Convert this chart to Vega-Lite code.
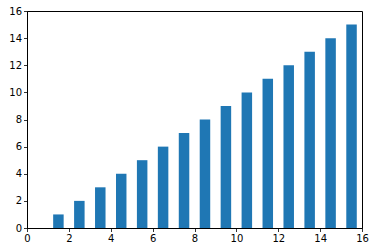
{
  "$schema": "https://vega.github.io/schema/vega-lite/v6.json",
  "width": 335,
  "height": 217,
  "autosize": {"type": "none"},
  "padding": {"left": 27, "top": 11, "right": 13, "bottom": 24},
  "background": "white",
  "config": {
    "view": {"stroke": "#000000", "strokeWidth": 1},
    "axis": {
      "grid": false,
      "domainColor": "#000000",
      "domainWidth": 1,
      "tickColor": "#000000",
      "tickSize": 3.5,
      "tickWidth": 0.8,
      "labelFont": "DejaVu Sans",
      "labelFontSize": 10,
      "labelColor": "#000000",
      "labelPadding": 2,
      "title": null
    }
  },
  "data": {
    "values": [
      {"x": 1.5, "y": 1}, {"x": 2.5, "y": 2}, {"x": 3.5, "y": 3}, {"x": 4.5, "y": 4},
      {"x": 5.5, "y": 5}, {"x": 6.5, "y": 6}, {"x": 7.5, "y": 7}, {"x": 8.5, "y": 8},
      {"x": 9.5, "y": 9}, {"x": 10.5, "y": 10}, {"x": 11.5, "y": 11}, {"x": 12.5, "y": 12},
      {"x": 13.5, "y": 13}, {"x": 14.5, "y": 14}, {"x": 15.5, "y": 15}
    ]
  },
  "mark": {"type": "bar", "color": "#1f77b4", "size": 10.5},
  "encoding": {
    "x": {
      "field": "x", "type": "quantitative",
      "scale": {"domain": [0, 16], "nice": false, "zero": false, "padding": 0},
      "axis": {"values": [0, 2, 4, 6, 8, 10, 12, 14, 16], "labelFlush": false}
    },
    "y": {
      "field": "y", "type": "quantitative",
      "scale": {"domain": [0, 16], "nice": false, "padding": 0},
      "axis": {"values": [0, 2, 4, 6, 8, 10, 12, 14, 16]}
    }
  }
}
